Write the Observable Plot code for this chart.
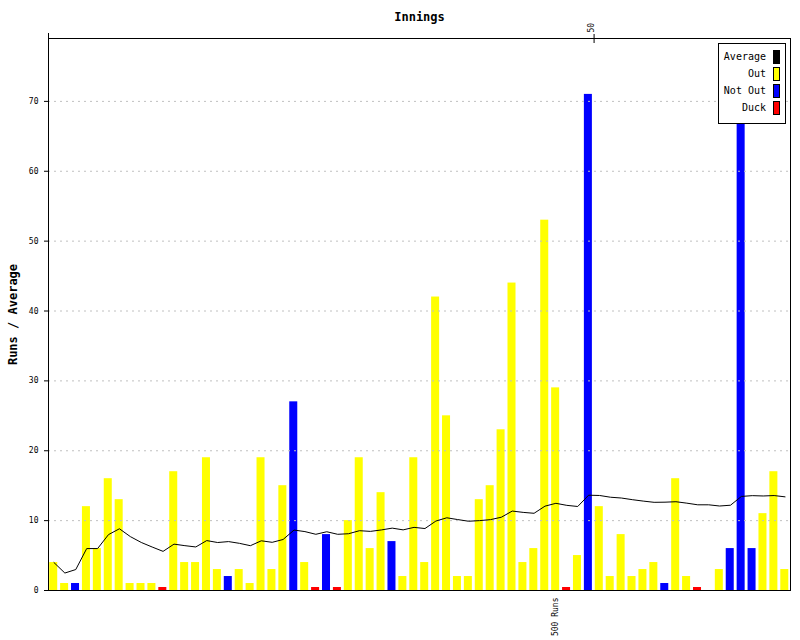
<!DOCTYPE html>
<html><head><meta charset="utf-8">
<script src="https://cdn.jsdelivr.net/npm/d3@7"></script>
<script src="https://cdn.jsdelivr.net/npm/@observablehq/plot@0.6"></script>
<style>
body{margin:0;background:#fff;}
#wrap{position:relative;width:800px;height:640px;font-family:"DejaVu Sans Mono",monospace;}
#legend{position:absolute;left:718px;top:43px;width:68px;height:81px;box-sizing:border-box;border:1px solid #000;background:#fff;}
.lrow{position:absolute;left:0;width:66px;height:14px;}
.ltxt{position:absolute;right:19px;top:0;line-height:14px;font-size:10px;color:#000;white-space:nowrap;}
.lsw{position:absolute;left:54px;top:0;width:7px;height:14px;box-sizing:border-box;border:1px solid #000;}
</style>
</head><body><div id="wrap"></div>
<script>
const runs = [4,1,1,12,6,16,13,1,1,1, 0,17,4,4,19,3,2,3,1,19, 3,15,27,4,0,8,0,10,19,6, 14,7,2,19,4,42,25,2,2,13, 15,23,44,4,6,53,29,0,5,71, 12,2,8,2,3,4,1,16,2,0, 0,3,6,68,6,11,17,3];
const notOutInnings = [3,17,23,26,32,50,57,61,63,64,65];
const yTicks = [0,10,20,30,40,50,60,70];
const topTicks = [50];
const milestoneRuns = [500];
const legendLabels = ["Average","Out","Not Out","Duck"];
const legendColors = ["#000000","#ffff00","#0000ff","#ff0000"];
const titleText = "Innings";
const yLabelText = "Runs / Average";

const rows = runs.map((r,i)=>({inning:i+1, runs:r,
  type: notOutInnings.includes(i+1) ? "Not Out" : (r===0 ? "Duck" : "Out")}));
let cum=0, outs=0;
rows.forEach(d=>{cum+=d.runs; if(d.type!=="Not Out") outs++; d.cum=cum; d.avg = outs ? cum/outs : null;});
const milestones = milestoneRuns.map(m=>({label: m+" Runs", inning: rows.find(d=>d.cum>=m).inning}));

const chart = Plot.plot({
  width:800, height:640,
  marginLeft:48, marginRight:10, marginTop:38, marginBottom:50,
  style:{fontFamily:"DejaVu Sans Mono, monospace", fontSize:"8px", background:"#fff"},
  x:{domain:[0, runs.length]},
  y:{domain:[0,79]},
  color:{domain:legendLabels.slice(1), range:legendColors.slice(1)},
  marks:[
    Plot.rectY(rows.filter(d=>d.type!=="Duck"), {x1:d=>d.inning-1, x2:d=>d.inning, y:"runs", fill:"type", insetLeft:1.2, insetRight:1.7}),
    Plot.rectY(rows.filter(d=>d.type==="Duck"), {x1:d=>d.inning-1, x2:d=>d.inning, y:"runs", fill:"type", insetLeft:1.2, insetRight:1.7, insetTop:-3}),
    Plot.gridY(yTicks.slice(1), {stroke:"#c0c0c0", strokeOpacity:1, strokeDasharray:"2,4"}),
    Plot.line(rows, {x:d=>d.inning-0.5, y:"avg", stroke:"#000", strokeWidth:1}),
    Plot.frame({stroke:"#000"}),
    Plot.ruleX([0], {stroke:"#000", insetTop:-5}),
    Plot.axisY(yTicks, {tickSize:4, tickPadding:6, fontSize:8, label:null}),
    Plot.axisX(topTicks, {anchor:"top", tickSize:5, tickFormat:()=>"", label:null}),
    Plot.axisX(topTicks, {anchor:"top", tickSize:-4, tickFormat:()=>"", label:null}),
    Plot.text(topTicks, {x:d=>d, text:d=>String(d), frameAnchor:"top", rotate:-90, textAnchor:"start", dx:-6, dy:-6, fontSize:8}),
    Plot.text(milestones, {x:d=>d.inning-0.5, frameAnchor:"bottom", text:"label", rotate:-90, textAnchor:"end", dx:2, dy:7, fontSize:8}),
    Plot.text([titleText], {frameAnchor:"top", lineAnchor:"middle", dy:-21, fontWeight:"bold", fontSize:12}),
    Plot.text([yLabelText], {frameAnchor:"left", textAnchor:"middle", dx:-35, rotate:-90, fontWeight:"bold", fontSize:12})
  ]
});
const wrap = document.getElementById("wrap");
wrap.appendChild(chart);
const legend = document.createElement("div");
legend.id = "legend";
legendLabels.forEach((lab,i)=>{
  const row = document.createElement("div");
  row.className = "lrow";
  row.style.top = (6 + i*17) + "px";
  const t = document.createElement("span"); t.className="ltxt"; t.textContent = lab;
  const s = document.createElement("span"); s.className="lsw"; s.style.background = legendColors[i];
  row.appendChild(t); row.appendChild(s);
  legend.appendChild(row);
});
wrap.appendChild(legend);
</script>
</body></html>
